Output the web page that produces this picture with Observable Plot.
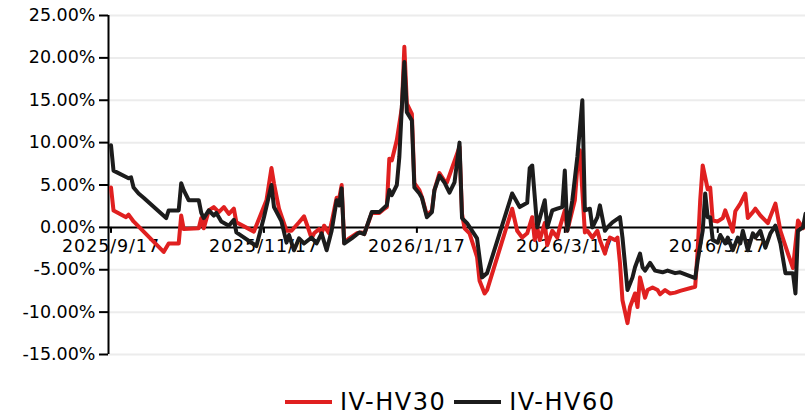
<!DOCTYPE html>
<html><head><meta charset="utf-8">
<script src="https://cdn.jsdelivr.net/npm/d3@7"></script>
<script src="https://cdn.jsdelivr.net/npm/@observablehq/plot@0.6"></script>
<style>
body{margin:0;background:#fff;width:805px;height:416px;overflow:hidden;position:relative;font-family:"DejaVu Sans",sans-serif}
#legend{position:absolute;left:285px;top:389px;display:flex;align-items:center;font-size:24px;line-height:26px;letter-spacing:1.5px;color:#000;height:26px;white-space:nowrap}
#legend .sw{display:inline-block;width:47px;height:4px;margin-right:8px}
#legend .it{display:flex;align-items:center;margin-right:8px}
</style></head><body><div id="chart"></div><div id="legend"></div>
<script>
const seriesNames = ["IV-HV30", "IV-HV60"];
const seriesColors = ["#e02020", "#1c1c1c"];
const xStart = "2025-09-16", xEnd = "2026-06-21";
const xTickDates = ["2025-09-17", "2025-11-17", "2026-01-17", "2026-03-17", "2026-05-17"];
const yTicks = [-15, -10, -5, 0, 5, 10, 15, 20, 25];

const hv30Dates = [
"2025-09-17","2025-09-18","2025-09-23","2025-09-24","2025-09-26",
"2025-10-08","2025-10-10","2025-10-14","2025-10-15","2025-10-16","2025-10-22","2025-10-23","2025-10-24","2025-10-26","2025-10-28","2025-10-30",
"2025-11-01","2025-11-03","2025-11-05","2025-11-06","2025-11-13","2025-11-18","2025-11-20","2025-11-21","2025-11-23","2025-11-26","2025-11-28",
"2025-12-01","2025-12-03","2025-12-05","2025-12-06","2025-12-07","2025-12-09","2025-12-10","2025-12-11","2025-12-13","2025-12-14","2025-12-16","2025-12-17","2025-12-18","2025-12-19","2025-12-21","2025-12-24","2025-12-26","2025-12-27","2025-12-30",
"2026-01-02","2026-01-04","2026-01-05","2026-01-06","2026-01-07","2026-01-09","2026-01-11","2026-01-12","2026-01-13","2026-01-15","2026-01-16","2026-01-18","2026-01-19","2026-01-21","2026-01-23","2026-01-24","2026-01-26","2026-01-28","2026-01-29","2026-01-31",
"2026-02-03","2026-02-04","2026-02-05","2026-02-07","2026-02-10","2026-02-11","2026-02-13","2026-02-14","2026-02-24","2026-02-26","2026-02-28",
"2026-03-02","2026-03-04","2026-03-05","2026-03-06","2026-03-07","2026-03-09","2026-03-10","2026-03-12","2026-03-14","2026-03-15","2026-03-17","2026-03-18","2026-03-19","2026-03-21","2026-03-22","2026-03-23","2026-03-25","2026-03-26","2026-03-28","2026-03-30","2026-03-31",
"2026-04-02","2026-04-03","2026-04-04","2026-04-06","2026-04-07","2026-04-08","2026-04-09","2026-04-11","2026-04-12","2026-04-14","2026-04-15","2026-04-16","2026-04-18","2026-04-19","2026-04-21","2026-04-23","2026-04-24","2026-04-26","2026-04-28","2026-04-30",
"2026-05-02","2026-05-08","2026-05-09","2026-05-10","2026-05-11","2026-05-13","2026-05-14","2026-05-15","2026-05-17","2026-05-19","2026-05-20","2026-05-23","2026-05-24","2026-05-26","2026-05-28","2026-05-29","2026-05-31",
"2026-06-01","2026-06-03","2026-06-06","2026-06-07","2026-06-09","2026-06-11","2026-06-14","2026-06-16","2026-06-18","2026-06-20","2026-06-21"
];
const hv30 = [
4.7,2.0,1.2,1.5,0.7,
-2.9,-1.9,-1.9,1.4,-0.2,-0.1,1.1,-0.1,2.0,2.4,1.8,
2.4,1.6,2.2,0.6,-0.5,3.2,7.0,5.2,2.2,-0.4,-0.4,
0.6,1.3,-0.4,-1.3,-0.7,-0.2,-0.7,0.2,-0.7,0.6,3.5,3.4,5.0,-1.8,-1.3,-0.7,-0.6,-0.8,1.7,
1.7,2.2,2.4,8.1,7.9,10.3,14.1,21.3,14.6,13.4,5.2,4.4,3.6,1.4,2.0,4.4,6.4,5.5,5.3,7.0,
9.5,1.6,-0.1,-0.7,-3.5,-6.3,-7.8,-7.4,2.2,-0.4,-1.2,
-0.7,1.2,-1.5,0.0,-1.5,0.5,-2.1,-0.4,-1.2,0.0,2.0,-0.4,0.8,3.2,7.1,9.1,-0.6,-0.4,-1.2,-0.4,-1.5,
-3.1,-1.9,-1.2,-1.5,-1.2,-4.2,-8.6,-11.3,-9.4,-7.8,-9.4,-5.9,-8.3,-7.4,-7.1,-7.4,-7.9,-7.4,-7.8,-7.7,
-7.5,-7.0,-2.7,3.2,7.3,4.5,4.7,0.8,0.7,1.1,2.0,-0.5,1.9,2.8,4.0,1.1,1.8,
2.2,1.4,0.5,1.3,2.8,-0.4,-3.1,-4.8,0.8,-0.1,0.2
];

const hv60Dates = [
"2025-09-17","2025-09-18","2025-09-24","2025-09-25","2025-09-26","2025-09-28","2025-09-30",
"2025-10-09","2025-10-10","2025-10-14","2025-10-15","2025-10-16","2025-10-18","2025-10-22","2025-10-23","2025-10-24","2025-10-26","2025-10-28","2025-10-29","2025-10-31",
"2025-11-03","2025-11-05","2025-11-06","2025-11-14","2025-11-17","2025-11-20","2025-11-21","2025-11-24","2025-11-26","2025-11-27","2025-11-29",
"2025-12-01","2025-12-03","2025-12-06","2025-12-08","2025-12-10","2025-12-12","2025-12-14","2025-12-16","2025-12-17","2025-12-18","2025-12-19","2025-12-22","2025-12-25","2025-12-27","2025-12-30",
"2026-01-02","2026-01-05","2026-01-06","2026-01-07","2026-01-09","2026-01-10","2026-01-11","2026-01-12","2026-01-13","2026-01-15","2026-01-16","2026-01-18","2026-01-19","2026-01-21","2026-01-23","2026-01-24","2026-01-26","2026-01-28","2026-01-29","2026-01-30",
"2026-02-01","2026-02-03","2026-02-04","2026-02-06","2026-02-10","2026-02-12","2026-02-14","2026-02-24","2026-02-27",
"2026-03-02","2026-03-03","2026-03-04","2026-03-06","2026-03-09","2026-03-10","2026-03-12","2026-03-14","2026-03-16","2026-03-17","2026-03-18","2026-03-20","2026-03-22","2026-03-24","2026-03-25","2026-03-27","2026-03-28","2026-03-30","2026-03-31",
"2026-04-02","2026-04-03","2026-04-05","2026-04-08","2026-04-09","2026-04-11","2026-04-13","2026-04-14","2026-04-16","2026-04-17","2026-04-18","2026-04-20","2026-04-22","2026-04-25","2026-04-27","2026-04-30",
"2026-05-02","2026-05-08","2026-05-09","2026-05-11","2026-05-12","2026-05-13","2026-05-14","2026-05-15","2026-05-17","2026-05-18","2026-05-20","2026-05-21","2026-05-23","2026-05-25","2026-05-26","2026-05-27","2026-05-29","2026-05-31",
"2026-06-01","2026-06-03","2026-06-05","2026-06-07","2026-06-09","2026-06-11","2026-06-13","2026-06-16","2026-06-17","2026-06-18","2026-06-20","2026-06-21"
];
const hv60 = [
9.7,6.7,5.8,5.9,4.7,4.0,3.5,
1.1,2.0,2.0,5.2,4.4,3.2,3.2,1.7,1.1,2.0,1.4,1.7,0.7,
0.2,0.9,-0.6,-2.2,1.2,5.0,2.4,0.7,-1.8,-0.9,-2.7,
-1.3,-1.9,-1.2,-1.9,-0.7,-2.7,-0.4,3.2,2.6,4.6,-1.9,-1.3,-0.6,-0.8,1.8,
1.8,2.6,4.4,3.8,5.0,8.3,14.2,19.5,13.6,12.6,4.7,4.0,3.5,1.2,1.8,4.4,6.1,5.3,4.7,4.1,
5.3,10.0,1.1,0.5,-1.3,-5.9,-5.4,4.0,2.4,
2.9,7.0,7.3,0.0,3.2,0.0,2.0,2.2,2.4,6.7,-0.4,3.2,8.3,15.0,2.0,2.2,0.0,1.2,2.6,
-0.4,0.0,0.6,1.2,-1.2,-7.4,-5.9,-4.7,-3.1,-4.7,-5.1,-4.2,-5.1,-5.3,-5.1,-5.4,
-5.3,-6.0,-3.9,-0.4,4.0,1.2,1.2,-1.5,-1.8,-0.9,-1.9,-1.2,-2.7,-1.2,-1.9,-0.4,-2.7,-0.7,
-1.2,-0.4,-2.4,-0.7,0.2,-1.9,-5.4,-5.4,-7.8,-0.4,0.0,1.6
];

const parse = d3.timeParse("%Y-%m-%d");
const fmtX = d3.timeFormat("%Y/%-m/%-d");
if (hv30Dates.length !== hv30.length || hv60Dates.length !== hv60.length) console.error("length mismatch", hv30Dates.length, hv30.length, hv60Dates.length, hv60.length);
const s30 = hv30Dates.map((d, i) => ({date: parse(d), value: hv30[i]}));
const s60 = hv60Dates.map((d, i) => ({date: parse(d), value: hv60[i]}));
const ticksX = xTickDates.map(parse);
const fmtY = d => d.toFixed(2) + "%";

const chart = Plot.plot({
  width: 805, height: 380,
  marginLeft: 108, marginRight: 0, marginTop: 15, marginBottom: 26,
  style: {fontFamily: "DejaVu Sans", fontSize: "17.5px", background: "white", color: "#000", overflow: "visible"},
  x: {type: "time", domain: [parse(xStart), parse(xEnd)], axis: null},
  y: {domain: [-15, 25], axis: null},
  marks: [
    Plot.ruleY(yTicks.filter(v => v !== 0), {stroke: "#ececec", strokeWidth: 2}),
    Plot.text(ticksX, {x: d => d, y: () => 0, text: d => fmtX(d), dy: 19, fontSize: 17.5, fill: "#000"}),
    Plot.ruleY([0], {stroke: "#000", strokeWidth: 2}),
    Plot.ruleX(ticksX, {x: d => d, y1: () => 0, y2: () => 0, insetBottom: -6, stroke: "#000", strokeWidth: 2}),
    Plot.ruleX([parse(xStart)], {x: d => d, y1: () => -15, y2: () => 25, stroke: "#000", strokeWidth: 2}),
    Plot.axisY({ticks: yTicks, tickFormat: fmtY, tickSize: 9, tickPadding: 4, fontSize: 17.5, label: null, strokeWidth: 2}),
    Plot.line(s30, {x: "date", y: "value", stroke: seriesColors[0], strokeWidth: 4, strokeLinejoin: "round"}),
    Plot.line(s60, {x: "date", y: "value", stroke: seriesColors[1], strokeWidth: 4, strokeLinejoin: "round"})
  ]
});
d3.select(chart).selectAll('g[aria-label="text"] text').style("letter-spacing", "0.9px");
document.getElementById("chart").appendChild(chart);

const legend = d3.select("#legend");
seriesNames.forEach((n, i) => {
  const it = legend.append("div").attr("class", "it");
  it.append("span").attr("class", "sw").style("background", seriesColors[i]);
  it.append("span").text(n);
});
</script>
</body></html>
